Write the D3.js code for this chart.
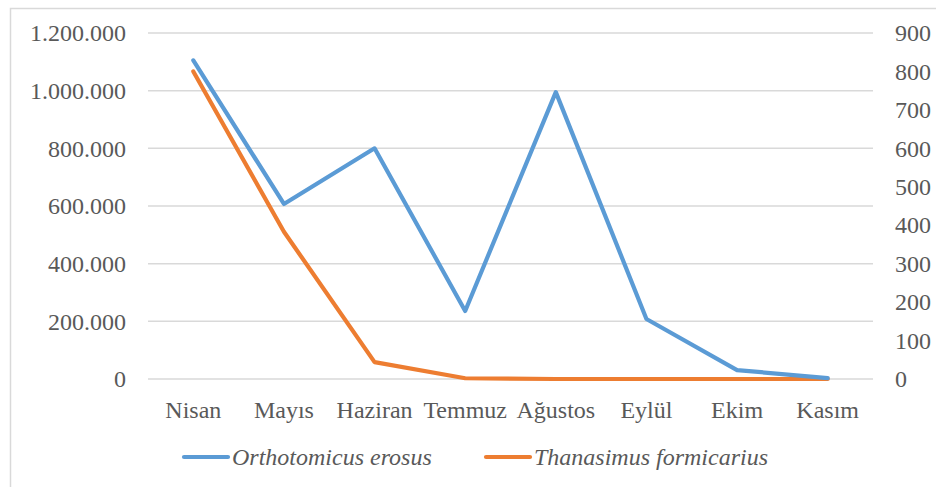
<!DOCTYPE html>
<html><head><meta charset="utf-8">
<script src="https://cdn.jsdelivr.net/npm/d3@7"></script>
</head><body style="margin:0">
<script>
const months = ["Nisan","Mayıs","Haziran","Temmuz","Ağustos","Eylül","Ekim","Kasım"];
const orthotomicus = [1105000, 607000, 800000, 236000, 995000, 208000, 31000, 3000];
const thanasimus = [800, 383, 44, 2, 0, 0, 0, 0];
const leftTicks = [0, 200000, 400000, 600000, 800000, 1000000, 1200000];
const rightTicks = [0,100,200,300,400,500,600,700,800,900];
const seriesNames = ["Orthotomicus erosus","Thanasimus formicarius"];
const colors = ["#5B9BD5","#ED7D31"];

const W=936,H=487;
const svg=d3.select("body").append("svg").attr("width",W).attr("height",H)
  .style("display","block");
const textCol="#595959";
const FF='"Liberation Serif", "Times New Roman", serif';
const styleText=sel=>sel.attr("font-family","Liberation Serif")
  .style("font-family",FF,"important")
  .style("font-size","24px","important").attr("fill",textCol);

svg.append("rect").attr("x",10.5).attr("y",8.5).attr("width",1000).attr("height",1000)
  .attr("fill","none").attr("stroke","#D9D9D9").attr("stroke-width",1.5);

const x=d3.scaleBand().domain(months).range([148,873]);
const yL=d3.scaleLinear().domain([0,1200000]).range([379,33]);
const yR=d3.scaleLinear().domain([0,900]).range([379,33]);

const fmt=v=>d3.format(",")(v).replace(/,/g,".");

// gridlines
svg.append("g").selectAll("line").data(leftTicks).join("line")
  .attr("x1",148).attr("x2",873).attr("y1",d=>yL(d)).attr("y2",d=>yL(d))
  .attr("stroke","#D9D9D9").attr("stroke-width",1.5);

// left axis
const gl=svg.append("g").attr("transform","translate(126,0)")
  .call(d3.axisLeft(yL).tickValues(leftTicks).tickFormat(fmt).tickSize(0).tickPadding(0));
gl.select(".domain").remove();
gl.selectAll("text").call(styleText);

// right axis
const gr=svg.append("g").attr("transform","translate(895,0)")
  .call(d3.axisRight(yR).tickValues(rightTicks).tickSize(0).tickPadding(0));
gr.select(".domain").remove();
gr.selectAll("text").call(styleText);

// bottom axis
const gb=svg.append("g").attr("transform","translate(0,379)")
  .call(d3.axisBottom(x).tickSize(0).tickPadding(0));
gb.select(".domain").remove();
gb.selectAll("text").call(styleText).attr("dy",null).attr("y",39);

const cx=d=>x(d)+x.bandwidth()/2;
const lineL=d3.line().x((d,i)=>cx(months[i])).y(d=>yL(d));
const lineR=d3.line().x((d,i)=>cx(months[i])).y(d=>yR(d));

svg.append("path").datum(thanasimus).attr("d",lineR).attr("fill","none")
  .attr("stroke",colors[1]).attr("stroke-width",4.2).attr("stroke-linejoin","round").attr("stroke-linecap","round");
svg.append("path").datum(orthotomicus).attr("d",lineL).attr("fill","none")
  .attr("stroke",colors[0]).attr("stroke-width",4.2).attr("stroke-linejoin","round").attr("stroke-linecap","round");

// legend
const legX=[184,486];
const lg=svg.append("g");
seriesNames.forEach((n,i)=>{
  lg.append("line").attr("x1",legX[i]).attr("x2",legX[i]+44).attr("y1",457).attr("y2",457)
    .attr("stroke",colors[i]).attr("stroke-width",4.2).attr("stroke-linecap","round");
  lg.append("text").attr("x",legX[i]+48).attr("y",465).text(n)
    .call(styleText).style("font-style","italic","important");
});
</script>
</body></html>
